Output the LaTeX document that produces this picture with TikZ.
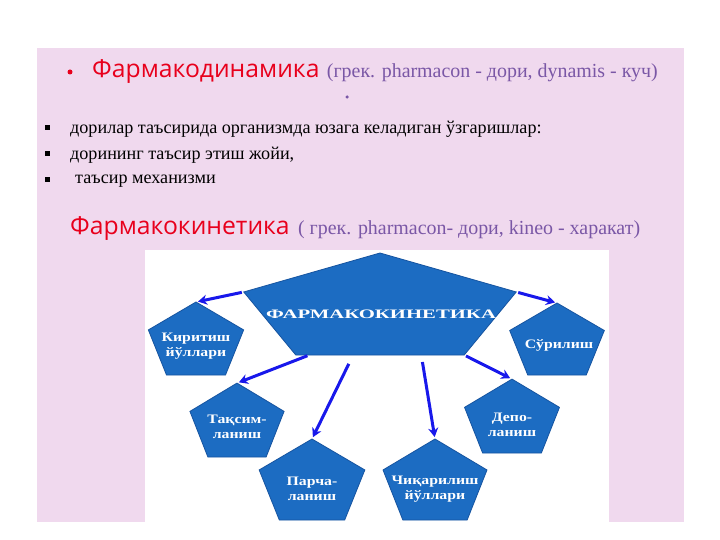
\documentclass[tikz,border=0pt]{standalone}
\usepackage{fontspec}
\setmainfont{Liberation Serif}
\newfontfamily\headfont{Open Sans}
\usetikzlibrary{positioning, shapes.geometric, arrows.meta, calc}
\definecolor{slidepink}{RGB}{240,217,238}
\definecolor{headred}{RGB}{232,0,28}
\definecolor{greekpurple}{RGB}{122,87,166}
\definecolor{pentblue}{RGB}{28,108,194}
\definecolor{pentline}{RGB}{22,84,160}
\definecolor{arrowblue}{RGB}{24,24,235}

\begin{document}
\begin{tikzpicture}[
    x=1bp, y=-1bp,
    head/.style={font=\headfont\fontsize{24.8}{29}\selectfont, text=headred, inner sep=0pt},
    greek/.style={font=\fontsize{20}{24}\selectfont, text=greekpurple, inner sep=0pt},
    item/.style={font=\fontsize{18.2}{21}\selectfont, inner sep=0pt, anchor=west},
    sqbullet/.style={fill=black, minimum size=5bp, inner sep=0pt},
    rdot/.style={circle, fill=#1, inner sep=0pt},
    pent/.style={regular polygon, regular polygon sides=5, fill=pentblue, draw=pentline, line width=0.8bp, inner sep=0pt, outer sep=0pt},
    lbl/.style={font=\bfseries\fontsize{13}{15.5}\selectfont, text=white, align=center, inner sep=0pt},
    arrow/.style={-{Stealth[length=9bp, width=10bp]}, line width=3bp, draw=arrowblue, shorten <=2bp, shorten >=2bp}
  ]

  \fill[white] (0,0) rectangle (720,540);
  \fill[slidepink] (37,48) rectangle (684,522);
  \fill[white] (145,250) rectangle (609,522);

  \node[rdot=headred, minimum size=5bp] (dot1) at (70,72) {};
  \node[head, anchor=west] (fdyn) at (92,72) {Фармакодинамика};
  \node[greek, base right=7bp of fdyn] (fdyn-gr) {(грек. pharmacon - дори, dynamis - куч)};
  \node[rdot=greekpurple, minimum size=3.5bp] (dot2) at (347,97) {};

  \node[sqbullet] (sq1) at (47,128) {};
  \node[item] (it1) at (70,129) {дорилар таъсирида организмда юзага келадиган ўзгаришлар:};
  \node[sqbullet] (sq2) at (47,154) {};
  \node[item] (it2) at (70,155) {дорининг таъсир этиш жойи,};
  \node[sqbullet] (sq3) at (47,180) {};
  \node[item] (it3) at (75,181) {таъсир механизми};

  \node[head, anchor=west] (fkin) at (70,229) {Фармакокинетика};
  \node[greek, base right=8bp of fkin] (fkin-gr) {( грек. pharmacon- дори, kineo - харакат)};

  \node[pent, minimum size=112.8bp, xscale=2.54] (big) at (380,309.4) {};
  \node[pent, minimum size=80.8bp, xscale=1.24] (kirit) at (196,342.4) {};
  \node[pent, minimum size=79.6bp, xscale=1.25] (surl) at (557,342.8) {};
  \node[pent, minimum size=81.8bp, xscale=1.21] (taqs) at (237,424) {};
  \node[pent, minimum size=89.6bp, xscale=1.24] (parch) at (312,483.8) {};
  \node[pent, minimum size=89.6bp, xscale=1.22] (chiq) at (435,483.8) {};
  \node[pent, minimum size=81.8bp, xscale=1.22] (depo) at (512,420) {};

  \node[lbl, xscale=1.6] (big-t) at (381,314) {ФАРМАКОКИНЕТИКА};
  \node[lbl, xscale=1.22] (kirit-t) at (196,346) {Киритиш\\йўллари};
  \node[lbl, xscale=1.22] (surl-t) at (559,345) {Сўрилиш};
  \node[lbl, xscale=1.22] (taqs-t) at (237,427) {Тақсим-\\ланиш};
  \node[lbl, xscale=1.22] (parch-t) at (312,489) {Парча-\\ланиш};
  \node[lbl, xscale=1.22] (chiq-t) at (435,489) {Чиқарилиш\\йўллари};
  \node[lbl, xscale=1.22] (depo-t) at (512,425) {Депо-\\ланиш};

  \draw[arrow] (big.corner 2) -- (kirit.corner 1);
  \draw[arrow] (big.corner 5) -- (surl.corner 1);
  \draw[arrow] ($(big.corner 3)!.08!(big.corner 4)$) -- (taqs.corner 1);
  \draw[arrow] ($(big.corner 3)!.32!(big.corner 4) + (0,7)$) -- (parch.corner 1);
  \draw[arrow] ($(big.corner 3)!.75!(big.corner 4) + (0,5)$) -- (chiq.corner 1);
  \draw[arrow] (big.corner 4) -- (depo.corner 1);

\end{tikzpicture}
\end{document}
